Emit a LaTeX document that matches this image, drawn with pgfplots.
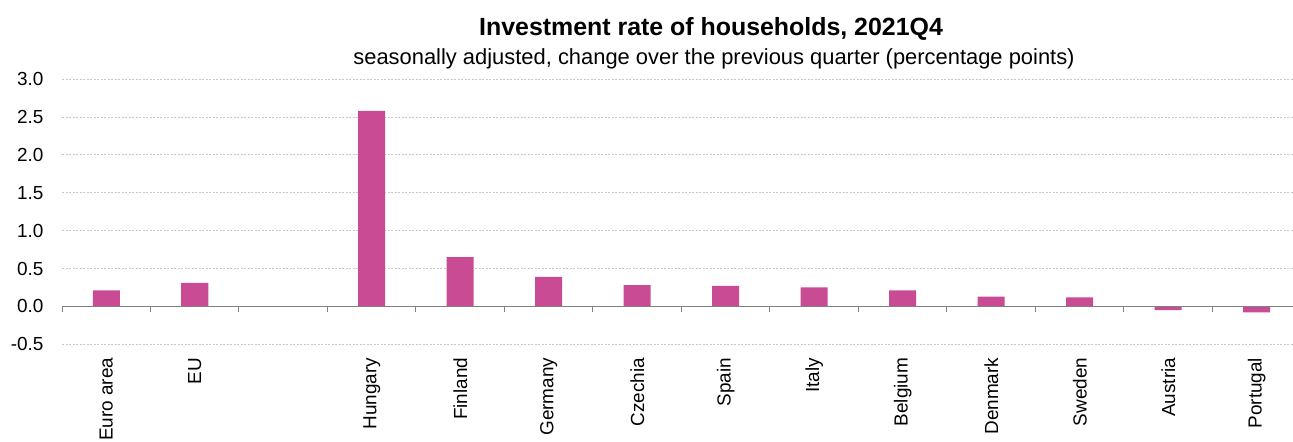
\documentclass[border=0pt]{standalone}
\usepackage{pgfplots}
\pgfplotsset{compat=1.18}
\usepackage{fontspec}
\setmainfont{Liberation Sans}
\definecolor{barpink}{RGB}{200,75,147}
\definecolor{gridgray}{RGB}{200,200,200}
\definecolor{axisgray}{RGB}{128,128,128}

\begin{document}
\begin{tikzpicture}
\begin{axis}[
  width=1231bp, height=265.3bp, scale only axis,
  xmin=-0.5, xmax=13.41, ymin=-0.5, ymax=3,
  axis line style={draw=none},
  ytick={-0.5,0,0.5,1,1.5,2,2.5,3},
  y tick label style={/pgf/number format/fixed, /pgf/number format/fixed zerofill, /pgf/number format/precision=1},
  /pgf/number format/assume math mode=true,
  ymajorgrids, grid style={gridgray, dash pattern=on 2bp off 1.5bp, line width=0.7bp},
  major tick length=0,
  xtick={0,1,3,4,5,6,7,8,9,10,11,12,13},
  xticklabels={Euro area,EU,Hungary,Finland,Germany,Czechia,Spain,Italy,Belgium,Denmark,Sweden,Austria,Portugal},
  tick label style={font=\fontsize{19}{22}\selectfont},
  xticklabel style={rotate=90, anchor=east, xshift=-10bp},
  yticklabel style={xshift=-15bp},
  ybar, bar width=27bp,
]
\addplot[fill=barpink, draw=none] coordinates {
  (0,0.21) (1,0.31) (3,2.58) (4,0.65) (5,0.39) (6,0.28) (7,0.27)
  (8,0.25) (9,0.21) (10,0.13) (11,0.12) (12,-0.05) (13,-0.08)
};
\draw[axisgray, line width=1.5bp] (axis cs:-0.5,0) -- (axis cs:13.41,0);
\pgfplotsinvokeforeach{-0.5,0.5,...,12.5}{
  \draw[axisgray, line width=1bp] (axis cs:#1,0) -- ++(0pt,-6bp);
}
\coordinate (bl) at (rel axis cs:0,0);
\coordinate (tl) at (rel axis cs:0,1);
\coordinate (tr) at (rel axis cs:1,1);
\end{axis}
\node[anchor=base, font=\bfseries\fontsize{25}{30}\selectfont]
  at ([shift={(649bp,43.3bp)}]tl) {Investment rate of households, 2021Q4};
\node[anchor=base, font=\fontsize{22}{26}\selectfont]
  at ([shift={(652bp,15bp)}]tl) {seasonally adjusted, change over the previous quarter (percentage points)};
\pgfresetboundingbox
\path[use as bounding box] ([shift={(-62bp,-96.7bp)}]bl) rectangle ([shift={(0bp,79bp)}]tr);
\end{tikzpicture}
\end{document}
